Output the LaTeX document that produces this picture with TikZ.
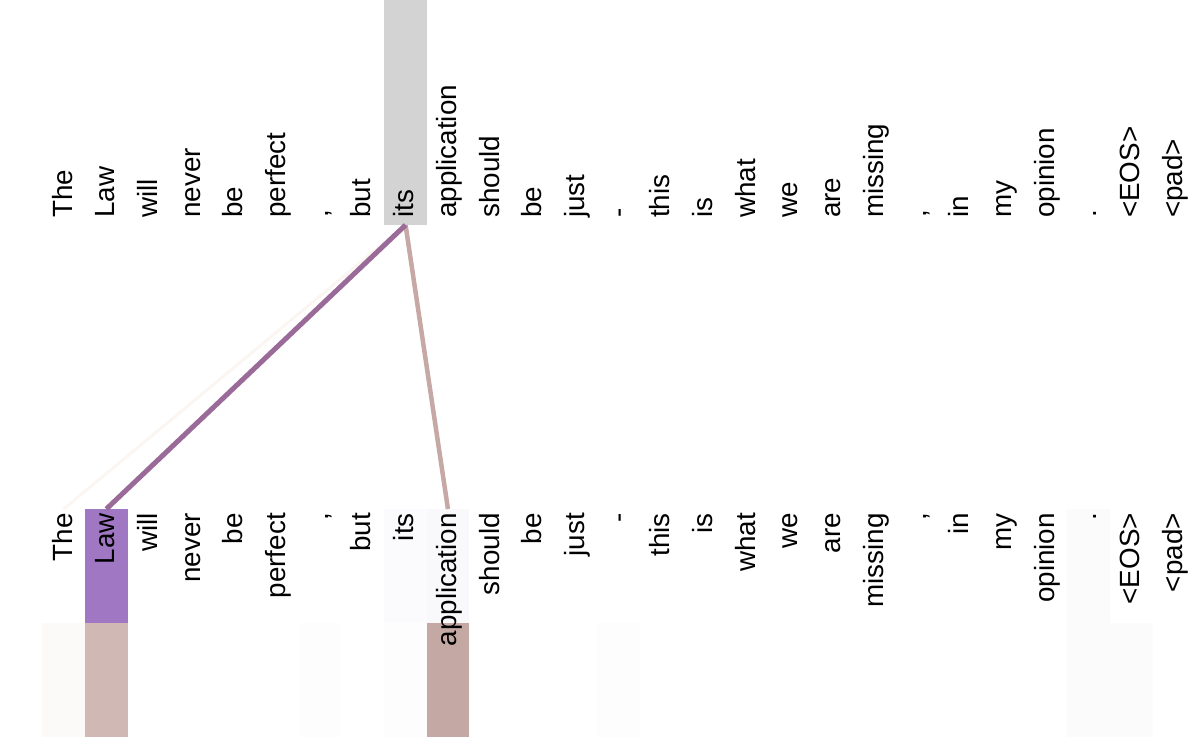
\documentclass[tikz,border=0pt]{standalone}
\usepackage{fontspec}
\setmainfont{Liberation Sans}
\usepackage{tikz}
\usetikzlibrary{positioning}
\definecolor{qgray}{HTML}{D3D3D3}
\definecolor{lawpurple}{HTML}{A077C2}
\definecolor{lawtan}{HTML}{D0B8B4}
\definecolor{apptan}{HTML}{C4A8A3}
\definecolor{thetint}{HTML}{FCFAF8}
\definecolor{faintA}{HTML}{FBFBFD}
\definecolor{faintB}{HTML}{F9F9FC}
\definecolor{faintC}{HTML}{FBFBFB}
\definecolor{faintD}{HTML}{FDFDFD}
\definecolor{linkpurple}{HTML}{9A6B99}
\definecolor{linktan}{HTML}{C6A8A4}
\definecolor{linkfaint}{HTML}{FBF6F2}

\begin{document}
\begin{tikzpicture}[x=1pt,y=-1pt,
    word/.style={rotate=90,inner sep=0pt,font=\fontsize{27.8}{30}\selectfont},
    cell/.style={inner sep=0pt,outer sep=0pt,minimum width=42.7pt,minimum height=114pt,anchor=north west},
    link/.style={line width=#1}]
  \useasboundingbox (0,0) rectangle (1196,737);
  % attending token
  \node[cell,fill=qgray,minimum height=225pt] (qbox) at (384.2,0) {};
  % attention strips under the lower tokens
  \foreach \col [count=\c from 0] in {white,lawpurple,white,white,white,white,white,white,faintA,faintB,
      white,white,white,white,white,white,white,white,white,white,white,white,white,white,faintC,white,white}
    \node[cell,fill=\col] (key-\c) at (42.3+42.7*\c,509) {};
  \foreach \col [count=\c from 0] in {thetint,lawtan,white,white,white,white,faintD,white,faintD,apptan,
      white,white,white,faintD,white,white,white,white,white,white,white,white,white,white,faintC,faintC,white}
    \node[cell,fill=\col] (low-\c) at (42.3+42.7*\c,623) {};
  % tokens
  \foreach \w [count=\i from 0] in {The,Law,will,never,be,perfect,{,},but,its,application,should,be,just,-,
      this,is,what,we,are,missing,{,},in,my,opinion,.,<EOS>,<pad>}{
    \node[word,anchor=base west] (top-\i) at (72+42.7*\i,218) {\w};
    \node[word,anchor=base east] (bot-\i) at (72+42.7*\i,513) {\w};
  }
  % links
  \draw[link=3pt,linkfaint] (qbox.south) -- (key-0.north);
  \draw[link=4.5pt,linktan] (qbox.south) -- (key-9.north);
  \draw[link=5pt,linkpurple] (qbox.south) -- (key-1.north);
\end{tikzpicture}
\end{document}
